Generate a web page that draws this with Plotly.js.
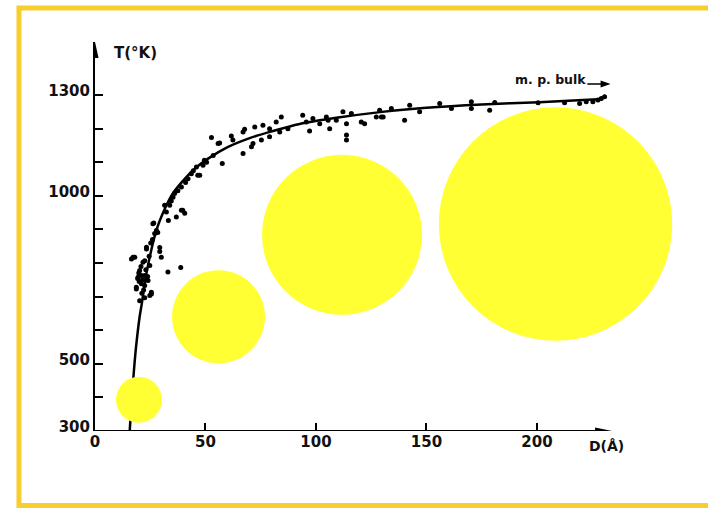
<!DOCTYPE html>
<html>
<head>
<meta charset="utf-8">
<script src="https://cdn.plot.ly/plotly-3.0.1.min.js"></script>
<style>html,body{margin:0;padding:0;background:#fff;}#chart{width:708px;height:508px;}</style>
</head>
<body>
<div id="chart"></div>
<script>
// Measured points: particle diameter D (Å) and melting temperature T (K)
const pointsD = [16.5,17.2,18,18.7,18.7,19.3,19.5,19.8,20,20.2,20.2,20.8,21,21,21.2,21.5,21.7,22,22.5,22.5,22.5,22.5,23,23.3,23.3,23.8,24,24.5,24.8,24.8,25.2,25.5,25.5,26,26.2,26.6,27,27.8,28.4,29.3,29.3,30,31.5,32.3,33,33.2,33.8,34.5,35.3,36,36.8,37.5,38.8,39.1,39.1,39.7,40.6,41,42.1,43.6,44.5,45.9,46.5,47.4,48.9,49.5,50.5,52.7,53.5,55.7,56.4,57.6,61.7,62.4,67,67.7,67,71.5,70.8,72.3,75.3,76,79,79,82,83.6,84.3,87.3,94,95.6,97.1,98.6,101.7,104.7,105.5,106.2,109.2,112.2,113.8,113.8,113.8,116,120.5,122,127.3,129.6,128.8,134.1,130.4,140.1,142.4,146.9,156,161.3,170.3,170.3,178.6,180.9,200.5,212.5,219.3,222.3,225.3,227.6,229.1,230.6];
const pointsT = [812,817,817,728,723,754,758,770,745,778,688,790,763,738,710,750,802,720,807,763,733,697,780,847,842,760,748,820,793,703,860,713,708,870,917,919,888,897,891,846,834,817,972,952,773,927,972,985,996,1007,937,1015,787,957,1026,957,948,1040,1051,1066,1075,1086,1061,1061,1091,1106,1100,1174,1120,1156,1157,1096,1178,1166,1190,1198,1126,1156,1146,1205,1166,1210,1200,1176,1220,1190,1235,1200,1240,1220,1193,1230,1215,1235,1225,1200,1225,1250,1215,1181,1166,1245,1220,1215,1235,1235,1255,1260,1235,1225,1270,1250,1275,1260,1280,1260,1255,1278,1277,1277,1275,1280,1280,1285,1290,1295];

// Fitted curve
const curveD = [15.7,16.5,17.5,18.5,20.2,21.2,22.5,24.5,27.9,31.5,35,39.2,45,51,60,70,80,92.6,110,130,150,175,201,229.7];
const curveT = [300,380,470,545,640,680,740,810,900,960,1005,1040,1080,1110,1145,1172,1192,1214,1233,1250,1262,1272,1279,1288];

// Decorative particle circles: centre (D, T) and radius in px
const circleD = [19.9, 55.9, 111.8, 208.4];
const circleT = [393, 640, 884, 916];
const circleR = [23, 46.5, 80, 116.7];

// Axis ticks
const xTickVals = [0, 50, 100, 150, 200];
const xTickText = ['0', '50', '100', '150', '200'];
const yTickVals = [300,400,500,600,700,800,900,1000,1100,1200,1300];
const yTickText = ['300','','500','','','','','1000','','','1300'];
const xAxisEnd = 234;
const yAxisEnd = 1458;

const labelFont = {family: 'DejaVu Sans', size: 15, color: '#111', weight: 'bold'};

const traces = [
  {x: curveD, y: curveT, mode: 'lines', line: {color: '#000', width: 2.5, shape: 'spline', smoothing: 0.8}, hoverinfo: 'skip'},
  {x: pointsD, y: pointsT, mode: 'markers', marker: {color: '#000', size: 5}, hoverinfo: 'skip'}
];

const shapes = [];
for (let i = 0; i < circleD.length; i++) {
  shapes.push({type: 'circle', xref: 'x', yref: 'y', xsizemode: 'pixel', ysizemode: 'pixel',
    xanchor: circleD[i], yanchor: circleT[i], x0: -circleR[i], x1: circleR[i], y0: -circleR[i], y1: circleR[i],
    fillcolor: '#FFFF33', line: {width: 0}, layer: 'above'});
}
// x axis line (ends at the arrow)
shapes.push({type: 'line', xref: 'x', yref: 'y', x0: 0, x1: xAxisEnd - 3, y0: 300, y1: 300, line: {color: '#000', width: 2}});
// axis arrow heads
shapes.push({type: 'path', xref: 'x', yref: 'y', xsizemode: 'pixel', ysizemode: 'pixel', xanchor: xAxisEnd, yanchor: 300,
  path: 'M0,0 L-17,3.5 L-17,-3.5 Z', fillcolor: '#000', line: {width: 0}});
shapes.push({type: 'path', xref: 'x', yref: 'y', xsizemode: 'pixel', ysizemode: 'pixel', xanchor: 0, yanchor: yAxisEnd,
  path: 'M0,0 L-3.5,-16 L3.5,-16 Z', fillcolor: '#000', line: {width: 0}});
// small arrow after "m. p. bulk"
shapes.push({type: 'path', xref: 'x', yref: 'y', xsizemode: 'pixel', ysizemode: 'pixel', xanchor: 232.3, yanchor: 1333,
  path: 'M-21,0 L-6,0 M0,0 L-7,2.5 L-7,-2.5 Z', fillcolor: '#000', line: {width: 1.5, color: '#000'}});
// yellow frame
shapes.push({type: 'rect', xref: 'paper', yref: 'paper', x0: -0.124, x1: 1.2, y0: -0.1915, y1: 1.0875,
  line: {color: '#F8CD2E', width: 5}, fillcolor: 'rgba(0,0,0,0)'});

const layout = {
  width: 708, height: 508,
  margin: {l: 95, r: 0, t: 42, b: 77},
  paper_bgcolor: '#fff', plot_bgcolor: '#fff',
  showlegend: false,
  xaxis: {range: [0, 277.4], showline: false, showgrid: false, zeroline: false,
    ticks: 'inside', ticklen: 8, tickwidth: 2, tickcolor: '#000', tickvals: xTickVals, ticktext: xTickText,
    tickfont: labelFont, fixedrange: true},
  yaxis: {range: [300, yAxisEnd], showline: true, linewidth: 2, linecolor: '#000', showgrid: false, zeroline: false,
    ticks: 'inside', ticklen: 8, tickwidth: 2, tickcolor: '#000', tickvals: yTickVals, ticktext: yTickText,
    tickfont: labelFont, ticklabelshift: -4, fixedrange: true},
  shapes: shapes,
  annotations: [
    {text: 'T(°K)', xref: 'x', yref: 'y', x: 7.5, y: 1425, xanchor: 'left', yanchor: 'middle', showarrow: false, font: labelFont},
    {text: 'm. p. bulk', xref: 'x', yref: 'y', x: 189, y: 1345, xanchor: 'left', yanchor: 'middle', showarrow: false,
      font: {family: 'DejaVu Sans', size: 12.5, color: '#111', weight: 'bold'}},
    {text: 'D(Å)', xref: 'paper', yref: 'paper', x: 0.8026, y: -0.0386, xanchor: 'left', yanchor: 'middle', showarrow: false,
      font: {family: 'DejaVu Sans', size: 14, color: '#111', weight: 'bold'}}
  ]
};

Plotly.newPlot('chart', traces, layout, {staticPlot: true, displayModeBar: false});
</script>
</body>
</html>
